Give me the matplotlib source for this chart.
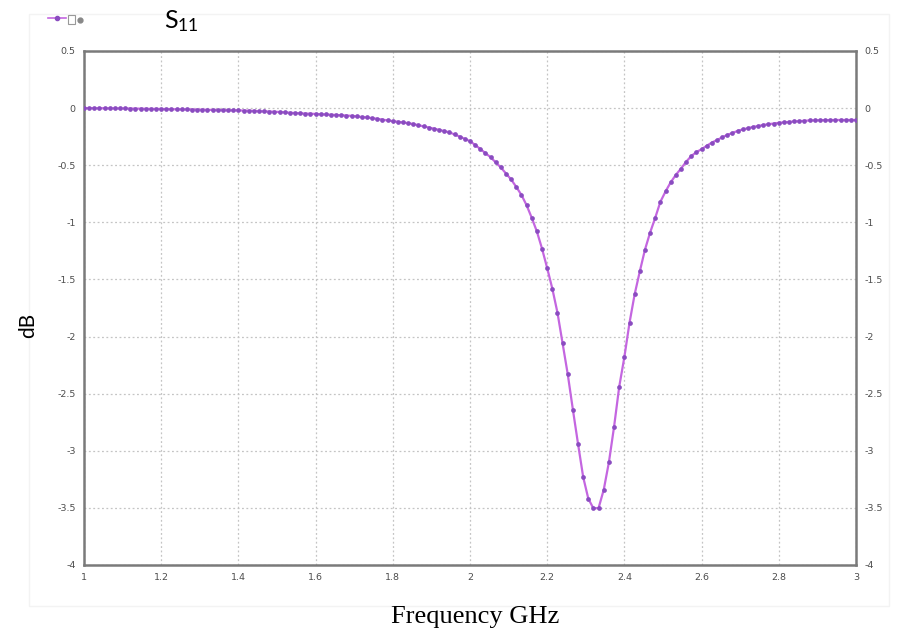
import numpy as np
import matplotlib
matplotlib.use('Agg')
import matplotlib.pyplot as plt
from matplotlib.lines import Line2D
from matplotlib.patches import Rectangle

# sweep: 151 points from 1 to 3 GHz
freq = np.linspace(1.0, 3.0, 151)
s11_db = [
    0.000, -0.000, -0.001, -0.001, -0.001, -0.002, -0.002, -0.003, -0.003, -0.004,
    -0.005, -0.005, -0.006, -0.007, -0.007, -0.008, -0.009, -0.010, -0.010, -0.011,
    -0.012, -0.013, -0.014, -0.014, -0.015, -0.016, -0.017, -0.018, -0.019, -0.019,
    -0.020, -0.022, -0.023, -0.025, -0.027, -0.029, -0.030, -0.032, -0.034, -0.037,
    -0.041, -0.043, -0.046, -0.048, -0.049, -0.051, -0.054, -0.056, -0.058, -0.060,
    -0.063, -0.065, -0.068, -0.073, -0.078, -0.082, -0.088, -0.094, -0.101, -0.108,
    -0.114, -0.120, -0.126, -0.132, -0.140, -0.150, -0.160, -0.170, -0.180, -0.191,
    -0.202, -0.212, -0.230, -0.249, -0.270, -0.290, -0.322, -0.358, -0.394, -0.430,
    -0.475, -0.520, -0.573, -0.625, -0.690, -0.760, -0.850, -0.960, -1.080, -1.230,
    -1.400, -1.580, -1.790, -2.060, -2.330, -2.640, -2.940, -3.230, -3.420, -3.505,
    -3.500, -3.340, -3.100, -2.790, -2.440, -2.180, -1.880, -1.630, -1.430, -1.240,
    -1.090, -0.960, -0.820, -0.730, -0.650, -0.585, -0.530, -0.470, -0.420, -0.385,
    -0.360, -0.330, -0.302, -0.280, -0.256, -0.235, -0.217, -0.200, -0.187, -0.176,
    -0.165, -0.157, -0.148, -0.141, -0.135, -0.129, -0.125, -0.121, -0.117, -0.114,
    -0.111, -0.108, -0.107, -0.106, -0.105, -0.105, -0.104, -0.104, -0.104, -0.104,
    -0.104,
]
x_ticks = [1, 1.2, 1.4, 1.6, 1.8, 2, 2.2, 2.4, 2.6, 2.8, 3]
x_labels = ['1', '1.2', '1.4', '1.6', '1.8', '2', '2.2', '2.4', '2.6', '2.8', '3']
y_ticks = [0.5, 0, -0.5, -1, -1.5, -2, -2.5, -3, -3.5, -4]
y_labels = ['0.5', '0', '-0.5', '-1', '-1.5', '-2', '-2.5', '-3', '-3.5', '-4']

line_col = '#c466e0'
mark_col = '#8a4cc0'

plt.rcParams['mathtext.fontset'] = 'custom'
plt.rcParams['mathtext.rm'] = 'Lato'
plt.rcParams['mathtext.it'] = 'Lato'

fig = plt.figure(figsize=(9.01, 6.31), dpi=100)
fig.patch.set_facecolor('white')
ax = fig.add_axes([0.0932, 0.1046, 0.8568, 0.8146])

ax.plot(freq, s11_db, color=line_col, lw=1.6, marker='o', ms=3.4,
        mfc=mark_col, mec=mark_col, mew=0, zorder=3)

ax.set_xlim(1, 3)
ax.set_ylim(-4, 0.5)
ax.set_xticks(x_ticks)
ax.set_xticklabels(x_labels)
ax.set_yticks(y_ticks)
ax.set_yticklabels(y_labels)
ax.tick_params(axis='both', length=0, labelsize=6.8, labelcolor='#4d4d4d',
               pad=6, labelright=True)
ax.grid(True, color='#c4c4c4', ls=(0, (1.5, 2)), lw=0.9)
for sp in ax.spines.values():
    sp.set_color('#7a7a7a')
    sp.set_linewidth(1.8)

fig.text(0.527, 0.013, 'Frequency GHz', family='Liberation Serif',
         fontsize=19, ha='center', va='baseline')
fig.text(0.031, 0.485, 'dB', family='Lato', fontsize=15, rotation=90,
         ha='center', va='center')
fig.text(0.182, 0.955, r'S$_{11}$', family='Lato', fontsize=18,
         ha='left', va='baseline')

# legend sample in the top left corner
fig.add_artist(Line2D([0.053, 0.073], [0.971, 0.971], color=line_col, lw=1.2,
                      transform=fig.transFigure))
fig.add_artist(Line2D([0.063], [0.971], marker='o', ms=3, color=mark_col,
                      transform=fig.transFigure))
fig.add_artist(Rectangle((0.075, 0.962), 0.008, 0.015, fill=False,
                         ec='#999999', lw=0.8, transform=fig.transFigure))
fig.add_artist(Line2D([0.089], [0.969], marker='o', ms=3.5, color='#888888',
                      transform=fig.transFigure))

# faint outer frame of the original screenshot
fig.add_artist(Rectangle((0.032, 0.04), 0.955, 0.938, fill=False,
                         ec='#f3f3f3', lw=1, transform=fig.transFigure, zorder=0))

fig.savefig('out.png', dpi=100)
